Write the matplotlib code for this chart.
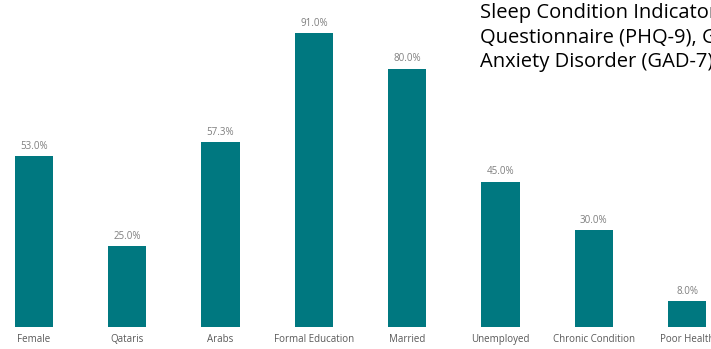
import matplotlib
matplotlib.use("Agg")
from matplotlib import pyplot as plt

# share of respondents in each group
categories = ["Female", "Qataris", "Arabs", "Formal Education", "Married",
              "Unemployed", "Chronic Condition", "Poor Health"]
values = [53.0, 25.0, 57.3, 91.0, 80.0, 45.0, 30.0, 8.0]

note_lines = [
    "Sleep Condition Indicator (SCI), Patient Health",
    "Questionnaire (PHQ-9), Generalized",
    "Anxiety Disorder (GAD-7)",
]

W, H = 711, 349
fig = plt.figure(figsize=(W / 100, H / 100), dpi=100)
ax = fig.add_axes([0, 22 / H, 1, 327 / H])

step = 93.3  # pixels between bar centres
ax.set_xlim(-34 / step, (W - 34) / step)
ax.set_ylim(0, 327 / 3.23)

pos = list(range(len(categories)))
bars = ax.bar(pos, values, width=0.41, color="#007880")

for b, v in zip(bars, values):
    ax.annotate(f"{v:.1f}%", (b.get_x() + b.get_width() / 2, v),
                xytext=(0, 3), textcoords="offset points",
                ha="center", va="bottom", fontsize=7, color="#7f7f7f",
                family="Open Sans")

ax.set_xticks(pos)
ax.set_xticklabels(categories, fontsize=7, color="#595959", family="Open Sans")
ax.tick_params(axis="x", length=0, pad=5)
ax.set_yticks([])
for s in ax.spines.values():
    s.set_visible(False)

# note text runs past the right edge of the canvas
for i, line in enumerate(note_lines):
    fig.text(480 / W, 1 - (18 + 24.5 * i) / H, line, fontsize=14.5,
             family="Open Sans", color="black", ha="left", va="baseline")

fig.savefig("out.png", dpi=100)
